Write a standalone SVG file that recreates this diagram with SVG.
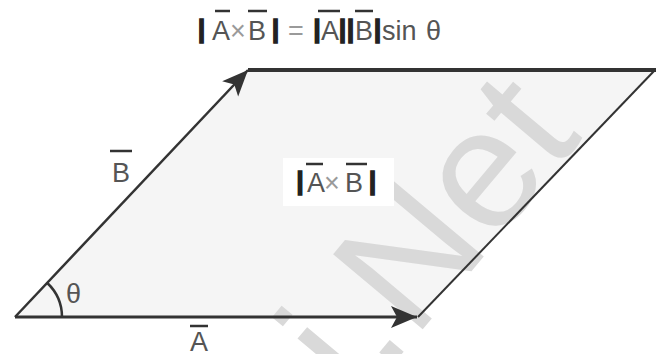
<svg xmlns="http://www.w3.org/2000/svg" width="656" height="354" viewBox="0 0 656 354">
<defs>
<style>
.t{font-family:"Liberation Sans",Arial,sans-serif;font-size:27px;fill:#555}
.x{font-family:"Liberation Sans",Arial,sans-serif;font-size:27px;fill:#9a9a9a}
.bar{font-family:"Liberation Sans",Arial,sans-serif;font-size:25px;font-weight:bold;fill:#222;stroke:#222;stroke-width:1.6}
.ob{stroke:#333;stroke-width:2.5;fill:none}
.edge{stroke:#333;fill:none}
.wm{font-family:"Liberation Sans",Arial,sans-serif;font-size:170px;fill:#d9d9d9}
</style>
<marker id="ah" markerUnits="userSpaceOnUse" markerWidth="28" markerHeight="24" refX="26" refY="11" orient="auto" viewBox="0 0 28 22">
<path d="M0,0 L26,11 L0,22 L6,11 Z" fill="#333"/>
</marker>
</defs>
<rect width="656" height="354" fill="#fff"/>
<g id="parallelogram">
<polygon points="15,317 418,317 655,70 248,70" fill="#f5f5f5"/>
</g>
<g id="watermark">
<text class="wm" x="359" y="405" transform="rotate(-50 359 405)">i.Net</text>
</g>
<g id="connectors">
<line class="edge" x1="248" y1="70" x2="656" y2="70" stroke-width="4"/>
<line class="edge" x1="418" y1="317" x2="655" y2="70" stroke-width="2"/>
<line class="edge" x1="15" y1="317" x2="417" y2="317" stroke-width="3" marker-end="url(#ah)"/>
<line class="edge" x1="15" y1="317" x2="248" y2="70" stroke-width="2.5" marker-end="url(#ah)"/>
<path class="edge" d="M62,317 A47,47 0 0 0 47.3,283" stroke-width="2.5"/>
</g>
<g id="formula">
<text class="bar" x="201.5" y="38" text-anchor="middle">|</text>
<text class="t" x="212" y="40">A</text>
<text class="x" x="238" y="40" text-anchor="middle">×</text>
<text class="t" x="248" y="40">B</text>
<text class="bar" x="275.5" y="38" text-anchor="middle">|</text>
<text class="x" x="296" y="40" text-anchor="middle">=</text>
<text class="bar" x="317" y="38" text-anchor="middle">|</text>
<text class="t" x="321" y="40">A</text>
<text class="bar" x="342.5" y="38" text-anchor="middle">|</text>
<text class="bar" x="350.5" y="38" text-anchor="middle">|</text>
<text class="t" x="355" y="40">B</text>
<text class="bar" x="377.5" y="38" text-anchor="middle">|</text>
<text class="t" x="382" y="40">sin</text>
<text class="t" x="426" y="40">θ</text>
<line class="ob" x1="215" y1="11" x2="230" y2="11"/>
<line class="ob" x1="248" y1="11" x2="267" y2="11"/>
<line class="ob" x1="318" y1="11" x2="340" y2="11"/>
<line class="ob" x1="355" y1="11" x2="373" y2="11"/>
</g>
<g id="area-label">
<rect x="283" y="158" width="111" height="48" fill="#fff"/>
<text class="bar" x="300" y="190" text-anchor="middle">|</text>
<text class="t" x="307" y="192">A</text>
<text class="x" x="332" y="192" text-anchor="middle">×</text>
<text class="t" x="345" y="192">B</text>
<text class="bar" x="372.5" y="190" text-anchor="middle">|</text>
<line class="ob" x1="306" y1="164" x2="323" y2="164"/>
<line class="ob" x1="346" y1="164" x2="367" y2="164"/>
</g>
<g id="label-B">
<text class="t" x="112" y="182">B</text>
<line class="ob" x1="110" y1="151" x2="132" y2="151"/>
</g>
<g id="label-A">
<text class="t" x="190" y="351">A</text>
<line class="ob" x1="190" y1="326" x2="208" y2="326"/>
</g>
<g id="label-theta">
<text class="t" x="66" y="303">θ</text>
</g>
</svg>
